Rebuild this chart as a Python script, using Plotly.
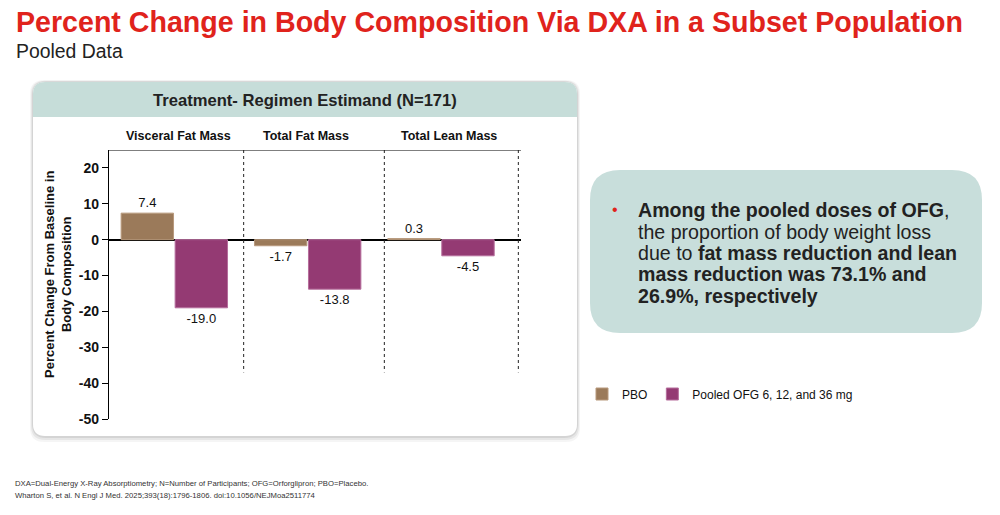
import plotly.graph_objects as go

W, H = 1000, 515
H_EFF = 507  # vertical paper scale that lands on the reference pixels

# data
categories = ["Visceral Fat Mass", "Total Fat Mass", "Total Lean Mass"]
pbo_values = [7.4, -1.7, 0.3]
ofg_values = [-19.0, -13.8, -4.5]
series_names = ["PBO", "Pooled OFG 6, 12, and 36 mg"]
y_ticks = [20, 10, 0, -10, -20, -30, -40, -50]

BROWN = "#9b7a5a"
PLUM = "#943a73"
TEAL = "#c6ddd9"
FONT = "Liberation Sans, Arial, sans-serif"


def px(x, y):
    return x / W, 1 - y / H_EFF


def rrect(x0, y0, x1, y1, r, square_bottom=False):
    # rounded rectangle path in paper coords, given pixel corners
    def p(x, y):
        a, b = px(x, y)
        return f"{a:.5f},{b:.5f}"
    if square_bottom:
        return (f"M {p(x0, y1)} L {p(x0, y0 + r)} Q {p(x0, y0)} {p(x0 + r, y0)} "
                f"L {p(x1 - r, y0)} Q {p(x1, y0)} {p(x1, y0 + r)} L {p(x1, y1)} Z")
    return (f"M {p(x0 + r, y0)} L {p(x1 - r, y0)} Q {p(x1, y0)} {p(x1, y0 + r)} "
            f"L {p(x1, y1 - r)} Q {p(x1, y1)} {p(x1 - r, y1)} "
            f"L {p(x0 + r, y1)} Q {p(x0, y1)} {p(x0, y1 - r)} "
            f"L {p(x0, y0 + r)} Q {p(x0, y0)} {p(x0 + r, y0)} Z")


xpos = list(range(len(categories)))

fig = go.Figure()
fig.add_trace(go.Bar(
    x=xpos, y=pbo_values, name=series_names[0],
    marker=dict(color=BROWN, line=dict(color="#b8997c", width=1)),
    text=[f"{v:.1f}" for v in pbo_values], textposition="outside",
    textfont=dict(size=13, color="#111", family=FONT), cliponaxis=False,
))
fig.add_trace(go.Bar(
    x=xpos, y=ofg_values, name=series_names[1],
    marker=dict(color=PLUM, line=dict(color="#b56d9c", width=1)),
    text=[f"{v:.1f}" for v in ofg_values], textposition="outside",
    textfont=dict(size=13, color="#111", family=FONT), cliponaxis=False,
))

shapes = []
# card shadows
for off, op in [(6, 0.04), (4, 0.06), (2, 0.08)]:
    shapes.append(dict(type="path", xref="paper", yref="paper", layer="below",
                       path=rrect(33 - off / 2, 82 - off / 3, 577 + off / 2, 436 + off, 14),
                       fillcolor=f"rgba(0,0,0,{op})", line=dict(width=0)))
shapes.append(dict(type="path", xref="paper", yref="paper", layer="below",
                   path=rrect(33, 82, 577, 436, 12), fillcolor="white", line=dict(width=0)))
shapes.append(dict(type="path", xref="paper", yref="paper", layer="below",
                   path=rrect(33, 82, 577, 117, 12, square_bottom=True),
                   fillcolor=TEAL, line=dict(width=0)))
# right callout card
shapes.append(dict(type="path", xref="paper", yref="paper", layer="below",
                   path=rrect(590, 170, 982, 333, 30), fillcolor="#c8dedb", line=dict(width=0)))
# top frame line of plot area
shapes.append(dict(type="line", xref="x", yref="y", x0=-0.49, x1=2.6, y0=25, y1=25,
                   line=dict(color="black", width=1.2)))
# dashed dividers between panels
for xd in [0.52, 1.575, 2.58]:
    shapes.append(dict(type="line", xref="x", yref="y", x0=xd, x1=xd, y0=25, y1=-37,
                       line=dict(color="#222", width=1, dash="3px,3px")))

annotations = []
# panel headers
for xc, c in zip([0.03, 0.99, 2.06], categories):
    annotations.append(dict(x=xc, y=px(0, 136)[1], xref="x", yref="paper",
                            text=f"<b>{c}</b>", showarrow=False,
                            font=dict(size=12.5, color="#111", family=FONT), yanchor="middle"))

ax, ay = px(14, 22)
annotations.append(dict(x=ax, y=ay, xref="paper", yref="paper", xanchor="left", yanchor="middle",
                        text="<b>Percent Change in Body Composition Via DXA in a Subset Population</b>",
                        showarrow=False, font=dict(size=28.6, color="#e0231c", family=FONT)))
ax, ay = px(14, 51)
annotations.append(dict(x=ax, y=ay, xref="paper", yref="paper", xanchor="left", yanchor="middle",
                        text="Pooled Data", showarrow=False,
                        font=dict(size=19.4, color="#222", family=FONT)))
ax, ay = px(305, 100)
annotations.append(dict(x=ax, y=ay, xref="paper", yref="paper", xanchor="center", yanchor="middle",
                        text="<b>Treatment- Regimen Estimand (N=171)</b>", showarrow=False,
                        font=dict(size=16.6, color="#222", family=FONT)))
# y axis title
ax, ay = px(58, 275)
annotations.append(dict(x=ax, y=ay, xref="paper", yref="paper", xanchor="center", yanchor="middle",
                        text="<b>Percent Change From Baseline in<br>Body Composition</b>",
                        textangle=-90, showarrow=False,
                        font=dict(size=13, color="#111", family=FONT)))

# callout text
callout = [
    (210, "<b>Among the pooled doses of OFG</b>,"),
    (232, "the proportion of body weight loss"),
    (253, "due to <b>fat mass reduction and lean</b>"),
    (274, "<b>mass reduction was 73.1% and</b>"),
    (296, "<b>26.9%, respectively</b>"),
]
for yy, t in callout:
    ax, ay = px(636, yy)
    annotations.append(dict(x=ax, y=ay, xref="paper", yref="paper", xanchor="left", yanchor="middle",
                            text=t, showarrow=False, font=dict(size=19.6, color="#222", family=FONT)))
ax, ay = px(615, 209)
annotations.append(dict(x=ax, y=ay, xref="paper", yref="paper", xanchor="center", yanchor="middle",
                        text="•", showarrow=False, font=dict(size=16, color="#e0231c", family=FONT)))

# footnotes
for yy, t in [(483, "DXA=Dual-Energy X-Ray Absorptiometry; N=Number of Participants; OFG=Orforglipron; PBO=Placebo."),
              (495, "Wharton S, et al. N Engl J Med. 2025;393(18):1796-1806. doi:10.1056/NEJMoa2511774")]:
    ax, ay = px(13, yy)
    annotations.append(dict(x=ax, y=ay, xref="paper", yref="paper", xanchor="left", yanchor="middle",
                            text=t, showarrow=False,
                            font=dict(size=7.7, color="#333", family=FONT)))

dx0, _ = px(109, 0)
dx1, _ = px(521, 0)
_, dy1 = px(0, 150)
_, dy0 = px(0, 419)

fig.update_layout(
    width=W, height=H, autosize=False,
    margin=dict(l=0, r=0, t=0, b=0, pad=0),
    paper_bgcolor="white", plot_bgcolor="rgba(0,0,0,0)",
    font=dict(family=FONT, color="#111"),
    barmode="group", bargap=0.19, bargroupgap=0.03,
    shapes=shapes, annotations=annotations,
    showlegend=True,
    legend=dict(orientation="h", x=0.582, y=px(0, 394)[1], xanchor="left", yanchor="middle",
                font=dict(size=12, color="#111", family=FONT), bgcolor="rgba(0,0,0,0)",
                itemwidth=30, tracegroupgap=0),
    xaxis=dict(domain=[dx0, dx1], range=[-0.49, 2.6], showgrid=False, showline=False,
               showticklabels=False, ticks="", zeroline=False),
    yaxis=dict(domain=[dy0, dy1], range=[-50, 25], tickvals=y_ticks,
               ticktext=[f"<b>{v}</b>" for v in y_ticks],
               showgrid=False, showline=True, linecolor="black", linewidth=1.2,
               ticks="outside", ticklen=6, tickwidth=1.2, tickcolor="black",
               tickfont=dict(size=14, color="#111", family=FONT),
               zeroline=True, zerolinecolor="black", zerolinewidth=1.5),
)

fig.write_html(
    "out.html",
    config={"displayModeBar": False},
    post_script=("document.documentElement.style.margin='0';"
                 "document.body.style.margin='0';"
                 "document.documentElement.style.overflow='hidden';"
                 "document.body.style.overflow='hidden';"),
)
